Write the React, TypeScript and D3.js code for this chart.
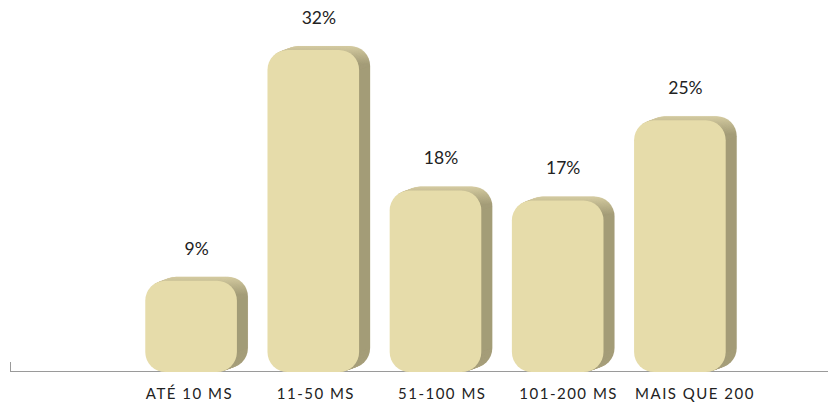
import React from "react";
import * as d3 from "d3";

const categories = ["ATÉ 10 MS", "11-50 MS", "51-100 MS", "101-200 MS", "MAIS QUE 200"];
const values = [9, 32, 18, 17, 25];
const valueLabels = ["9%", "32%", "18%", "17%", "25%"];

const W = 830;
const H = 404;
const baseY = 371;
const depthX = 11;
const depthY = 4;
const radius = 20;

const x = d3.scaleBand<string>().domain(categories).range([130, 741]).paddingInner(0.25).paddingOuter(0.125);
// category captions sit on their own, slightly wider spacing
const xLabel = d3.scalePoint<string>().domain(categories).range([189.5, 695]);
const y = d3.scaleLinear().domain([0, 32]).range([baseY, 50]);

const font = "Lato, 'Open Sans', sans-serif";

export default function App() {
  const bw = x.bandwidth();
  return (
    <svg width={W} height={H} style={{ display: "block", position: "absolute", left: 0, top: 0 }}>
      <defs>
        {values.map((v, i) => {
          const top = y(v) - depthY;
          return (
            <linearGradient key={i} id={`side${i}`} gradientUnits="userSpaceOnUse" x1={0} y1={top} x2={0} y2={top + radius * 0.9}>
              <stop offset="0" stopColor="#d3ca9e" />
              <stop offset="1" stopColor="#9f9873" />
            </linearGradient>
          );
        })}
      </defs>
      <line x1={10} x2={828} y1={baseY + 0.5} y2={baseY + 0.5} stroke="#9a9a9a" strokeWidth={1} />
      <line x1={10.5} x2={10.5} y1={362} y2={baseY} stroke="#9a9a9a" strokeWidth={1} />
      {categories.map((c, i) => {
        const x0 = x(c)!;
        const top = y(values[i]);
        const h = baseY + 1 - top;
        const layers = d3.range(depthX, 0, -1);
        return (
          <g key={c}>
            {layers.map((k) => (
              <rect
                key={k}
                x={x0 + k}
                y={top - (k * depthY) / depthX}
                width={bw}
                height={h}
                rx={radius}
                ry={radius}
                fill={`url(#side${i})`}
                stroke="#e4dcb6"
                strokeOpacity={0.15}
                strokeWidth={0.5}
              />
            ))}
            <rect x={x0} y={top} width={bw} height={h} rx={radius} ry={radius} fill="#e6dcaa" />
            <text
              x={x0 + (bw + depthX) / 2}
              y={top - 26}
              textAnchor="middle"
              fontFamily={font}
              fontSize={17.5}
              fill="#222"
            >
              {valueLabels[i]}
            </text>
            <text
              x={xLabel(c)!}
              y={399}
              textAnchor="middle"
              fontFamily={font}
              fontSize={15}
              letterSpacing={1.5}
              fill="#222"
            >
              {c}
            </text>
          </g>
        );
      })}
    </svg>
  );
}
